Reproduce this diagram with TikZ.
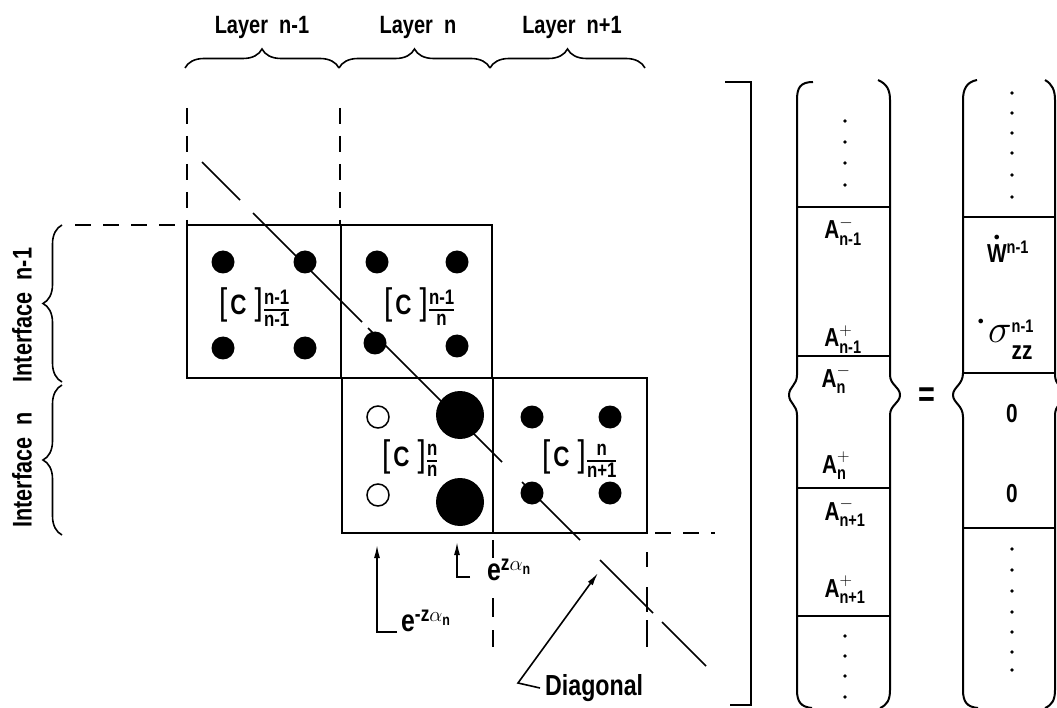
\documentclass[tikz,border=0pt]{standalone}
\usepackage{amsmath}
\usepackage{fontspec}
\setmainfont{Liberation Sans}[FakeStretch=0.8]
\usetikzlibrary{decorations.pathreplacing,arrows.meta,calc}

\newcommand\Cmat[2]{%
 {\fontsize{37}{37}\selectfont[}\hspace{3pt}%
 {\fontsize{28}{28}\selectfont\bfseries C}\hspace{8pt}%
 {\fontsize{37}{37}\selectfont]}%
 {\fontsize{21}{21}\selectfont\bfseries$\genfrac{}{}{1.4pt}{1}{\mbox{\raisebox{2pt}{#1}}}{\mbox{\raisebox{-3pt}{#2}}}$}}

\begin{document}
\begin{tikzpicture}[x=1pt,y=-1pt,
  lbl/.style={font=\bfseries\fontsize{25}{25}\selectfont, inner sep=0pt},
  ilbl/.style={font=\bfseries\fontsize{27}{27}\selectfont, inner sep=0pt, rotate=90},
  dlbl/.style={font=\bfseries\fontsize{29}{29}\selectfont, inner sep=0pt},
  elbl/.style={font=\bfseries\fontsize{31}{31}\selectfont, inner sep=0pt},
  mt/.style={font=\bfseries\fontsize{26}{26}\selectfont, inner sep=0pt, anchor=base},
  cmlbl/.style={inner sep=0pt, anchor=base west},
  brc/.style={decorate, decoration={brace, amplitude=19pt}, line width=1.6pt},
  dsh/.style={line width=2.4pt, dash pattern=on 16pt off 12pt},
  dseg/.style={line width=2.4pt},
  boxln/.style={line width=2pt},
  diagln/.style={line width=1.6pt},
  arr/.style={line width=1.6pt, -{Latex[length=13pt,width=6pt]}},
  colln/.style={line width=2pt},
  vdot/.style={fill=black}
]
\useasboundingbox (0,0) rectangle (1057,708);

% layer labels and braces
\node[lbl,anchor=base] (L1) at (262,34) {Layer\ \ n-1};
\node[lbl,anchor=base] (L2) at (418,34) {Layer\ \ n};
\node[lbl,anchor=base] (L3) at (572,34) {Layer\ \ n+1};
\draw[brc] (185,68) -- (339,68);
\draw[brc] (339,68) -- (490,68);
\draw[brc] (490,68) -- (645,68);

% interface labels and braces
\node[ilbl] (I1) at (22,315) {Interface\ \ n-1};
\node[ilbl] (I2) at (22,470) {Interface\ \ n};
\draw[brc] (62,382) -- (62,225);
\draw[brc] (62,535) -- (62,385);

% dashed guide lines
\draw[dsh] (187,108) -- (187,225);
\draw[dsh] (340,108) -- (340,225);
\draw[dsh] (75,225) -- (187,225);
\draw[dsh] (655,533) -- (715,533);
\foreach \a/\b in {540/558,598/617,630/647} \draw[dseg] (493,\a) -- (493,\b);
\foreach \a/\b in {552/567,587/612,620/647} \draw[dseg] (647,\a) -- (647,\b);

% boxes
\draw[boxln] (187,225) rectangle (341,378);
\draw[boxln] (341,225) rectangle (492,378);
\draw[boxln] (342,378) rectangle (493,533);
\draw[boxln] (493,378) rectangle (647,533);

% dots in boxes
\foreach \p in {(223,262),(305,262),(223,348),(305,348),
                (377,262),(457,262),(375,343),(457,346),
                (532,417),(610,417),(532,493),(610,493)}
  \fill \p circle (11.5pt);
\draw[line width=1.5pt] (378,417) circle (11pt);
\draw[line width=1.5pt] (378,495) circle (11pt);
\fill (460,415) circle (24pt);
\fill (460,502) circle (24pt);

% C labels
\node[cmlbl] (c1) at (219,315) {\Cmat{n-1}{n-1}};
\node[cmlbl] (c2) at (384,315) {\Cmat{n-1}{n}};
\node[cmlbl] (c3) at (382,466) {\Cmat{n}{n}};
\node[cmlbl] (c4) at (542,466) {\Cmat{n}{n+1}};

% diagonal (y = x - 40)
\foreach \a/\b in {202/240,253/362,368/502,522/580,600/653,662/706}
  \draw[diagln] (\a,\a-40) -- (\b,\b-40);

% exponential arrows
\node[elbl,anchor=base west] (e1) at (401,631) {$\text{e}^{\text{-z}\alpha_{\text{n}}}$};
\coordinate (t1) at (377,545);
\draw[arr] ([shift={(-4,1)}]e1.base west) -| (t1);
\node[elbl,anchor=base west] (e2) at (487,580) {$\text{e}^{\text{z}\alpha_{\text{n}}}$};
\coordinate (t2) at (457,542);
\draw[arr] ([shift={(-17,-3)}]e2.base west) -| (t2);

% diagonal label
\node[dlbl,anchor=base west] (dg) at (545,695) {Diagonal};
\coordinate (dgc) at (518,683);
\coordinate (t3) at (598,573);
\draw[arr] ([shift={(-5,-7)}]dg.base west) -- (dgc) -- (t3);

% matrix closing bracket
\draw[colln] (725,82) -- (751,82) -- (751,705) -- (730,705);

% column 1
\draw[colln] (813,82) .. controls (800,82) and (797,88) .. (797,100) -- (797,375)
  .. controls (797,385) and (789,387) .. (789,395) .. controls (789,403) and (797,405) .. (797,415)
  -- (797,690) .. controls (797,702) and (801,707) .. (812,708);
\draw[colln] (878,80) .. controls (887,84) and (890,90) .. (890,100) -- (890,375)
  .. controls (890,385) and (900,387) .. (900,395) .. controls (900,403) and (890,405) .. (890,415)
  -- (890,690) .. controls (890,700) and (887,705) .. (880,708);
\foreach \y in {207,356,488,616} \draw[colln] (797,\y) -- (890,\y);
\foreach \y in {121,142,163,185,636,656,676,697} \fill[vdot] (845,\y) circle (1.8pt);

\node[mt] (a1) at (843,239) {$\text{A}^{-}_{\text{n-1}}$};
\node[mt] (a2) at (843,347) {$\text{A}^{+}_{\text{n-1}}$};
\node[mt] (a3) at (836,387) {$\text{A}^{-}_{\text{n}}$};
\node[mt] (a4) at (836,473) {$\text{A}^{+}_{\text{n}}$};
\node[mt] (a5) at (845,520) {$\text{A}^{-}_{\text{n+1}}$};
\node[mt] (a6) at (845,597) {$\text{A}^{+}_{\text{n+1}}$};

% equals
\node[inner sep=0pt, font=\bfseries\fontsize{36}{36}\selectfont] (eq) at (927,397) {=};

% column 2
\draw[colln] (977,80) .. controls (966,82) and (963,90) .. (963,100) -- (963,373)
  .. controls (963,385) and (953,387) .. (953,395) .. controls (953,403) and (963,405) .. (963,417)
  -- (963,690) .. controls (963,702) and (967,707) .. (978,708);
\draw[colln] (1045,80) .. controls (1052,84) and (1055,90) .. (1055,100) -- (1055,375)
  .. controls (1055,385) and (1063,387) .. (1063,395) .. controls (1063,403) and (1055,405) .. (1055,415)
  -- (1055,690) .. controls (1055,700) and (1052,705) .. (1045,708);
\foreach \y in {217,373,528} \draw[colln] (963,\y) -- (1055,\y);
\foreach \y in {93,113,133,153,175,197,549,570,591,612,632,652,670} \fill[vdot] (1012,\y) circle (1.8pt);

\node[mt] (w) at (1008,263) {$\overset{\scriptscriptstyle\bullet}{\text{W}}{}^{\text{n-1}}$};
\node[mt] (s) at (1006,343) {$\raisebox{18pt}{$\scriptscriptstyle\bullet$}\,\scalebox{1.6}{$\sigma$}^{\text{n-1}}_{\raisebox{-10pt}{\text{zz}}}$};
\node[mt] (z1) at (1012,422) {0};
\node[mt] (z2) at (1012,502) {0};
\end{tikzpicture}
\end{document}
